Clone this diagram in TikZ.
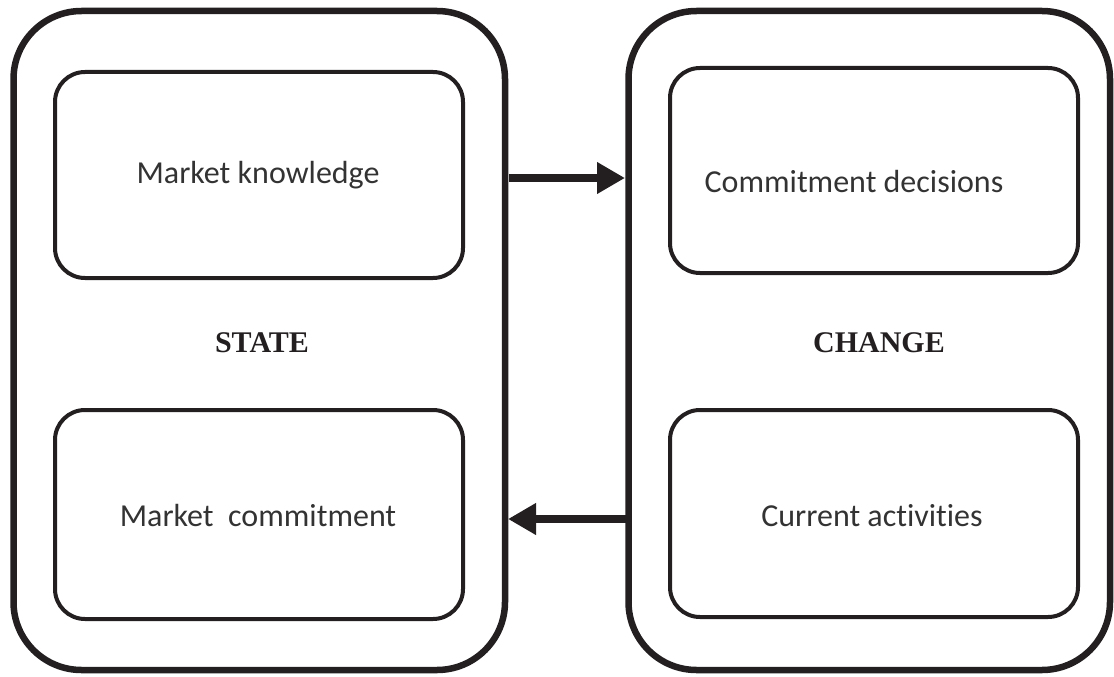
\documentclass[tikz,border=0pt]{standalone}
\usepackage{fontspec}
\setmainfont{Liberation Serif}
\newfontfamily\labfont[Ligatures=NoCommon]{Carlito}
\usetikzlibrary{arrows.meta}
\definecolor{ink}{HTML}{231F20}
\definecolor{txt}{HTML}{333333}
\begin{document}
\begin{tikzpicture}[x=1pt,y=-1pt,
  outerbox/.style={draw=ink,line width=6.5pt,rounded corners=68pt},
  innerbox/.style={draw=ink,line width=4pt,rounded corners=30pt},
  lab/.style={font=\labfont\fontsize{32}{38}\selectfont,text=txt},
  head/.style={font=\bfseries\fontsize{30}{36}\selectfont,text=ink},
  flow/.style={draw=ink,line width=8.5pt,-{Triangle[length=28pt,width=30pt]}}]
\useasboundingbox (0,0) rectangle (1114,677);
\draw[outerbox] (13.5,11) rectangle (505,670);
\draw[outerbox] (628.5,11) rectangle (1110,670);
\draw[innerbox] (55,72) rectangle (463,278);
\draw[innerbox] (55,410) rectangle (463,619);
\draw[innerbox] (670,68) rectangle (1078,273);
\draw[innerbox] (670,410) rectangle (1078,617);
\node[lab] (mk) at (258,175) {Market knowledge};
\node[lab] (mc) at (258,516) {Market\ \ commitment};
\node[lab] (cd) at (854,182) {Commitment decisions};
\node[lab] (ca) at (872,516) {Current activities};
\node[head] (st) at (262,343) {STATE};
\node[head] (ch) at (879,343) {CHANGE};
\coordinate (a1) at (509,178);
\coordinate (a2) at (625,178);
\coordinate (b1) at (626,519);
\coordinate (b2) at (508,519);
\draw[flow] (a1) -- (a2);
\draw[flow] (b1) -- (b2);
\end{tikzpicture}
\end{document}
